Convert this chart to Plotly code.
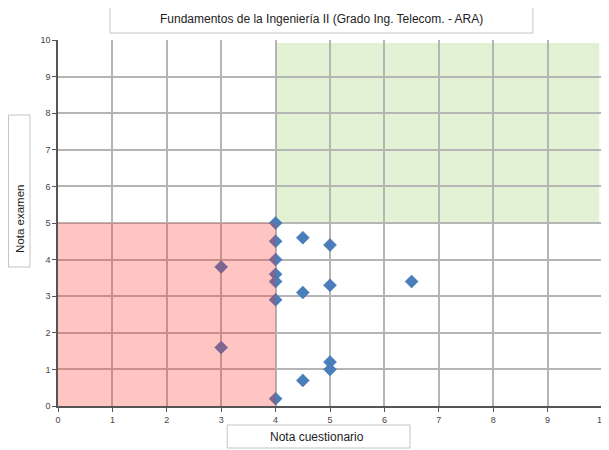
import plotly.graph_objects as go

nota_cuestionario = [3, 3, 4, 4, 4, 4, 4, 4, 4, 4.5, 4.5, 4.5, 5, 5, 5, 5, 6.5]
nota_examen = [3.8, 1.6, 5.0, 4.5, 4.0, 3.6, 3.4, 2.9, 0.2, 4.6, 3.1, 0.7, 4.4, 3.3, 1.2, 1.0, 3.4]
ticks = list(range(0, 11))
title = "Fundamentos de la Ingeniería II (Grado Ing. Telecom. - ARA)"
x_title = "Nota cuestionario"
y_title = "Nota examen"

fig = go.Figure()
fig.add_trace(go.Scatter(
    x=nota_cuestionario, y=nota_examen, mode="markers",
    marker=dict(symbol="diamond", size=10, color="#4a7ebb",
                line=dict(width=0.5, color="#3a6ea8")),
    showlegend=False, cliponaxis=False,
))

# green "aprobado" area (below grid) and red "suspenso" area (above)
fig.add_shape(type="rect", xref="x", yref="y", x0=4, x1=9.95, y0=5, y1=9.92,
              fillcolor="rgb(226,241,212)", line=dict(width=0), layer="below")
fig.add_shape(type="rect", xref="x", yref="y", x0=0, x1=4, y0=0, y1=5,
              fillcolor="rgba(255,40,30,0.27)", line=dict(width=0), layer="above")

# text boxes (paper coordinates)
box_line = dict(color="#c4c4c4", width=1)
for (a, b, c, d) in [(0.0956, 0.873, 1.019, 1.0956),
                     (0.311, 0.647, -0.1148, -0.0519),
                     (-0.091, -0.0515, 0.3798, 0.795)]:
    fig.add_shape(type="rect", xref="paper", yref="paper", x0=a, x1=b, y0=c, y1=d,
                  fillcolor="white", line=box_line, layer="above")

axis_style = dict(range=[0, 10], tickvals=ticks, showgrid=True, gridcolor="#b5b5b5",
                  gridwidth=1.5, showline=True, linecolor="#555", linewidth=1.5,
                  ticks="outside", ticklen=4, tickcolor="#555",
                  tickfont=dict(size=9, color="#444"), zeroline=False,
                  fixedrange=True, automargin=False, ticklabeloverflow="allow")

fig.update_layout(
    width=601, height=442,
    margin=dict(l=50, r=7, t=32, b=44, autoexpand=False),
    paper_bgcolor="white", plot_bgcolor="white",
    font=dict(family="Liberation Sans, Arial, sans-serif", color="#333"),
    xaxis=axis_style, yaxis=axis_style,
    annotations=[
        dict(text=title, xref="paper", yref="paper", x=0.4835, y=1.057,
             showarrow=False, font=dict(size=12, color="#222"),
             xanchor="center", yanchor="middle"),
        dict(text=x_title, xref="paper", yref="paper", x=0.476, y=-0.0847,
             showarrow=False, font=dict(size=12, color="#222"),
             xanchor="center", yanchor="middle"),
        dict(text=y_title, xref="paper", yref="paper", x=-0.0699, y=0.511,
             showarrow=False, font=dict(size=11.5, color="#222"), textangle=-90,
             xanchor="center", yanchor="middle"),
    ],
)

fig.write_html("out.html")
